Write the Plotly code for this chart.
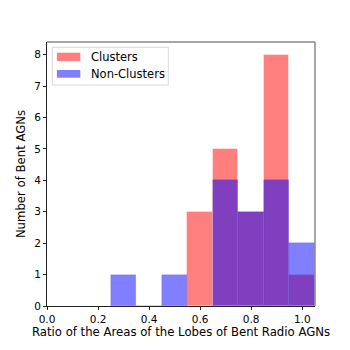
import plotly.graph_objects as go

# histogram bin centres (width 0.1) and counts
bin_centers = [0.3, 0.4, 0.5, 0.6, 0.7, 0.8, 0.9, 1.0]
clusters = [0, 0, 0, 3, 5, 3, 8, 1]
non_clusters = [1, 0, 1, 0, 4, 3, 4, 2]
x_ticks = [0.0, 0.2, 0.4, 0.6, 0.8, 1.0]
y_ticks = [0, 1, 2, 3, 4, 5, 6, 7, 8]

red = 'rgba(255,0,0,0.5)'
blue = 'rgba(0,0,255,0.5)'

fig = go.Figure()

fig.add_trace(go.Bar(
    x=bin_centers, y=clusters, width=0.1, name='Clusters', showlegend=False,
    marker=dict(color=red, line=dict(color='rgba(255,255,255,0.4)', width=1)),
))
fig.add_trace(go.Bar(
    x=bin_centers, y=non_clusters, width=0.1, name='Non-Clusters', showlegend=False,
    marker=dict(color=blue, line=dict(color='rgba(80,40,160,0.3)', width=0.5)),
))

# grey frame on top and right, like the reference
fig.add_shape(type='line', xref='paper', yref='paper', x0=0, x1=1, y0=1, y1=1,
              line=dict(color='#888888', width=1.5))
fig.add_shape(type='line', xref='paper', yref='paper', x0=1, x1=1, y0=0, y1=1,
              line=dict(color='#888888', width=1.5))

# matplotlib-style legend box drawn by hand
fig.add_shape(type='rect', xref='paper', yref='paper', x0=0.0196, x1=0.4528, y0=0.8371, y1=0.9799,
              line=dict(color='#d8d8d8', width=1), fillcolor='white', layer='above')
for name, color, y0, y1 in [('Clusters', red, 0.9280, 0.9595), ('Non-Clusters', blue, 0.8648, 0.8939)]:
    fig.add_shape(type='rect', xref='paper', yref='paper', x0=0.0369, x1=0.1244, y0=y0, y1=y1,
                  line=dict(width=0), fillcolor=color, layer='above')
    fig.add_annotation(xref='paper', yref='paper', x=0.1576, y=(y0 + y1) / 2, text=name,
                       showarrow=False, xanchor='left', yanchor='middle', font=dict(size=11.5))

# page body adds an 8px offset, so margins are shifted accordingly
fig.update_layout(
    width=350, height=350,
    margin=dict(l=36, r=43, t=34, b=52),
    paper_bgcolor='white', plot_bgcolor='white',
    barmode='overlay', bargap=0,
    font=dict(family='DejaVu Sans', size=10.5, color='black'),
    showlegend=False,
    xaxis=dict(
        range=[0, 1.05], tickvals=x_ticks, ticktext=['0.0', '0.2', '0.4', '0.6', '0.8', '1.0'],
        showgrid=False, zeroline=False, showline=True, linecolor='#222222', linewidth=1,
        ticks='outside', ticklen=3, tickcolor='#222222',
        title=dict(text='Ratio of the Areas of the Lobes of Bent Radio AGNs', font=dict(size=11.7), standoff=4),
    ),
    yaxis=dict(
        range=[0, 8.4], tickvals=y_ticks,
        showgrid=False, zeroline=False, showline=True, linecolor='#222222', linewidth=1,
        ticks='outside', ticklen=3, tickcolor='#222222',
        title=dict(text='Number of Bent AGNs', font=dict(size=11.7), standoff=6),
    ),
)

fig.write_html("out.html")
